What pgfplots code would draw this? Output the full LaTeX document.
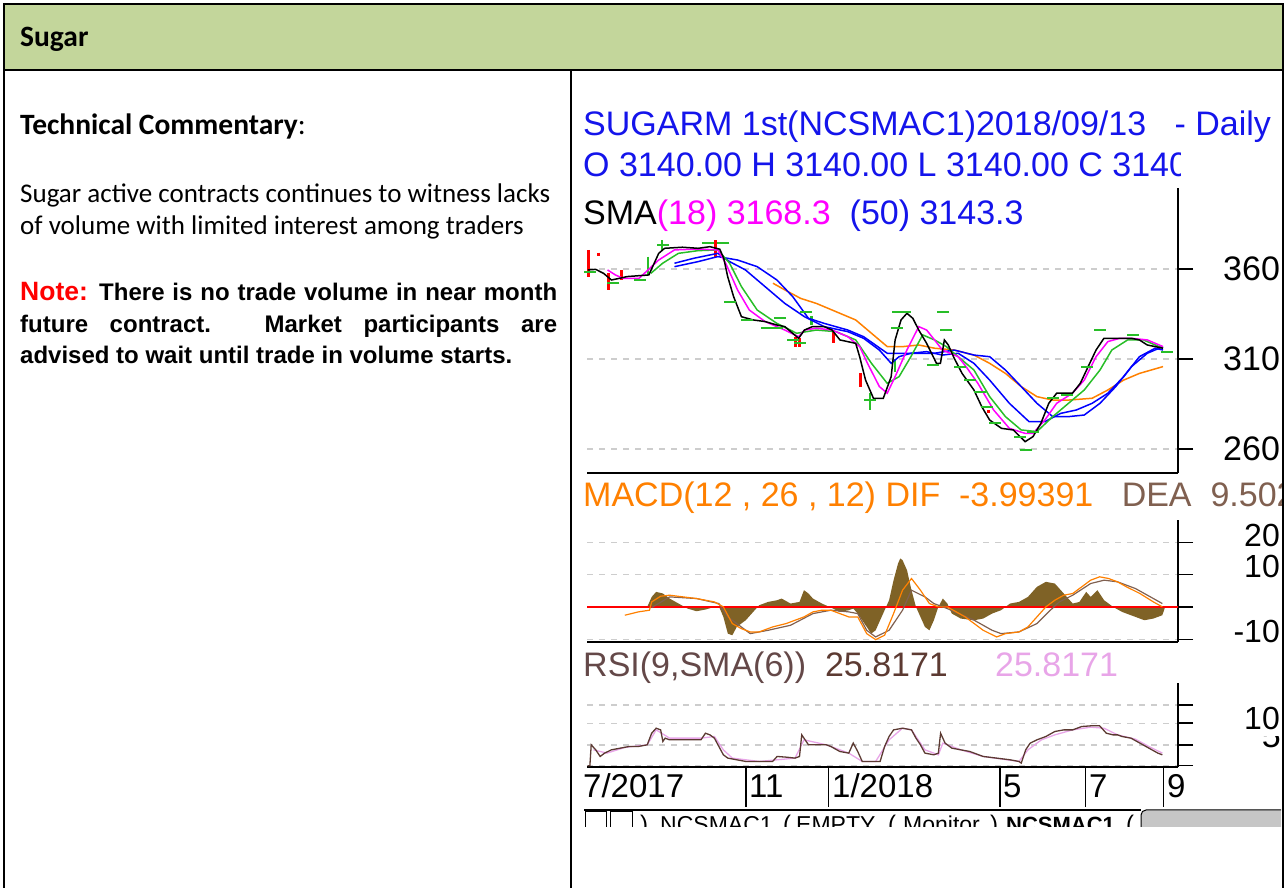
\documentclass[border=0pt]{standalone}
\usepackage{pgfplots}
\pgfplotsset{compat=1.18}
\usepackage{fontspec}
\setmainfont{Carlito}
\newfontfamily\arial{Liberation Sans}
\definecolor{hdr}{RGB}{195,214,155}
\definecolor{cblue}{RGB}{20,20,235}
\definecolor{cmag}{RGB}{255,0,255}
\definecolor{corange}{RGB}{255,128,0}
\definecolor{cgreen}{RGB}{40,190,40}
\definecolor{chist}{RGB}{127,98,38}
\definecolor{cdea}{RGB}{128,96,80}
\definecolor{crsi}{RGB}{92,58,50}
\definecolor{crsil}{RGB}{100,72,72}
\definecolor{cpink}{RGB}{232,165,232}
\definecolor{cgrid}{RGB}{205,205,205}
\pgfplotsset{panel/.style={anchor=south west, scale only axis, width=591pt,
  axis x line*=bottom, axis y line*=right,
  axis line style={black, line width=1.6pt},
  xtick=\empty, tick align=outside, major tick length=15pt,
  yticklabels={}, ytick style={black, line width=1.4pt},
  ymajorgrids, grid style={cgrid, line width=1.2pt, dash pattern=on 6pt off 6pt}}}
\begin{document}
\begin{tikzpicture}[x=1pt,y=1pt]
\path[use as bounding box] (0,0) rectangle (1285,888);
\fill[hdr] (4,884) rectangle (1283,818);
% ---------- left column ----------
\node[anchor=base west, inner sep=0] at (20,841) {\fontsize{29.5}{35}\selectfont\bfseries Sugar};
\node[anchor=base west, inner sep=0] at (20,753) {\fontsize{29.5}{35}\selectfont\textbf{Technical Commentary}:};
\node[anchor=base west, inner sep=0] at (20,685) {\fontsize{27}{33}\selectfont Sugar active contracts continues to witness lacks};
\node[anchor=base west, inner sep=0] at (20,653) {\fontsize{27}{33}\selectfont of volume with limited interest among traders};
\node[anchor=base west, inner sep=0] at (20,587) {\arial\bfseries\fontsize{24}{30}\selectfont\makebox[537pt][s]{{\fontsize{26.5}{30}\selectfont\color{red}Note:} There is no trade volume in near month}};
\node[anchor=base west, inner sep=0] at (20,555) {\arial\bfseries\fontsize{24}{30}\selectfont\makebox[537pt][s]{future contract. Market participants are}};
\node[anchor=base west, inner sep=0] at (20,524) {\arial\bfseries\fontsize{24}{30}\selectfont advised to wait until trade in volume starts.};
% ---------- chart texts ----------
\begin{scope}
\clip (572,0) rectangle (1281,818);
\node[anchor=base west, inner sep=0, text=cblue] at (583,752) {\arial\fontsize{34}{40}\selectfont SUGARM 1st(NCSMAC1)2018/09/13\ \ \ - Daily};
\begin{scope}
\clip (572,690) rectangle (1180,760);
\node[anchor=base west, inner sep=0, text=cblue] at (583,711) {\arial\fontsize{34}{40}\selectfont O 3140.00 H 3140.00 L 3140.00 C 3140.00};
\end{scope}
\node[anchor=base west, inner sep=0] at (583,663) {\arial\fontsize{34}{40}\selectfont SMA\textcolor{cmag}{(18) 3168.3}\ \ \textcolor{cblue}{(50) 3143.3}};
\node[anchor=base west, inner sep=0] at (583,381) {\arial\fontsize{34}{40}\selectfont\textcolor{corange}{MACD(12 , 26 , 12) DIF\ \ -3.99391}\ \ \ \textcolor{cdea}{DEA\ \ 9.502}};
\node[anchor=base west, inner sep=0] at (583,211) {\arial\fontsize{34}{40}\selectfont\textcolor{crsil}{RSI(9,SMA(6))}\ \ \textcolor{crsi}{25.8171}\ \ \ \ \ \textcolor{cpink}{25.8171}};
% rsi partially hidden label
\node[anchor=base east, inner sep=0] at (1300,140) {\arial\fontsize{34}{40}\selectfont 50};
\end{scope}
% price tick labels (visible part)
\node[anchor=base west, inner sep=0] at (1223,607) {\arial\fontsize{34}{40}\selectfont 360};
\node[anchor=base west, inner sep=0] at (1223,517) {\arial\fontsize{34}{40}\selectfont 310};
\node[anchor=base west, inner sep=0] at (1223,427) {\arial\fontsize{34}{40}\selectfont 260};
% macd tick labels
\node[anchor=base east, inner sep=0] at (1280,341) {\arial\fontsize{32}{40}\selectfont 20};
\node[anchor=base east, inner sep=0] at (1280,310) {\arial\fontsize{32}{40}\selectfont 10};
\node[anchor=base east, inner sep=0] at (1280,245) {\arial\fontsize{32}{40}\selectfont -10};
% rsi tick label
\node[anchor=base east, inner sep=0, fill=white, text depth=6pt] at (1280,158) {\arial\fontsize{32}{40}\selectfont 10};
% date labels
\node[anchor=base west, inner sep=0] at (583,90) {\arial\fontsize{33}{40}\selectfont 7/2017};
\node[anchor=base west, inner sep=0] at (749,90) {\arial\fontsize{33}{40}\selectfont 11};
\node[anchor=base west, inner sep=0] at (832,90) {\arial\fontsize{33}{40}\selectfont 1/2018};
\node[anchor=base west, inner sep=0] at (1003,90) {\arial\fontsize{33}{40}\selectfont 5};
\node[anchor=base west, inner sep=0] at (1089,90) {\arial\fontsize{33}{40}\selectfont 7};
\node[anchor=base west, inner sep=0] at (1167,90) {\arial\fontsize{33}{40}\selectfont 9};
% tab row
\begin{scope}
\clip (572,61) rectangle (1281,83);
\draw[line width=1.2pt] (584,78) -- (1141,78);
\draw[line width=1pt] (585,76) rectangle (606,55);
\draw[line width=1pt] (610,76) rectangle (632,55);
\fill[gray!45, rounded corners=5pt] (1141,78) rectangle (1310,40);
\draw[line width=1pt, rounded corners=5pt] (1141,78) rectangle (1310,40);
\node[anchor=base west, inner sep=0] at (640,55) {\arial\fontsize{24}{28}\selectfont )};
\node[anchor=base west, inner sep=0] at (660,55) {\arial\fontsize{23}{28}\selectfont NCSMAC1};
\node[anchor=base west, inner sep=0] at (783,55) {\arial\fontsize{24}{28}\selectfont (};
\node[anchor=base west, inner sep=0] at (796,55) {\arial\fontsize{23}{28}\selectfont EMPTY};
\node[anchor=base west, inner sep=0] at (888,55) {\arial\fontsize{24}{28}\selectfont (};
\node[anchor=base west, inner sep=0] at (903,55) {\arial\fontsize{23}{28}\selectfont Monitor};
\node[anchor=base west, inner sep=0] at (990,55) {\arial\fontsize{24}{28}\selectfont )};
\node[anchor=base west, inner sep=0] at (1006,55) {\arial\bfseries\fontsize{22}{28}\selectfont NCSMAC1};
\node[anchor=base west, inner sep=0] at (1126,55) {\arial\fontsize{24}{28}\selectfont (};
\end{scope}
% ---------- price panel ----------
\begin{axis}[panel, at={(587pt,415pt)}, height=285pt,
  xmin=18, xmax=1518, ymin=2467, ymax=4050, ytick={2600,3100,3600}]
\addplot[only marks, mark=-, mark size=6pt, cgreen, mark options={line width=2pt}] coordinates {
(25,3585)(85,3521)(152,3539)(212,3734)(326,3743)(364,3743)(381,3419)(423,3317)(474,3271)(499,3271)(508,3326)(541,3206)(558,3187)(575,3363)(736,2872)(804,3271)(808,3363)(824,3363)(922,3363)(930,3261)(896,3067)(964,3058)(989,2983)(1015,2919)(1032,2835)(1053,2743)(1116,2669)(1133,2595)(1150,2697)(1201,2882)(1235,2900)(1286,3058)(1319,3261)(1404,3234)(1489,3141)};
\addplot[cgreen, line width=2.5pt, unbounded coords=jump] coordinates {
(173,3669)(173,3567)(173,nan)(736,2910)(736,2817)(736,nan)(588,3340)(588,3290)(588,nan)(208,3760)(208,3700)(208,nan)(800,3100)(800,3030)};
\addplot[red, line width=3pt, unbounded coords=jump] coordinates {
(22,3706)(22,3558)(22,nan)(47,3691)(47,3673)(47,nan)(72,3576)(72,3484)(72,nan)(106,3595)(106,3539)(106,nan)(345,3761)(345,3669)(345,nan)(546,3224)(546,3169)(546,nan)(558,3215)(558,3169)(558,nan)(643,3261)(643,3187)(643,nan)(711,3020)(711,2947)(711,nan)(1036,2815)(1036,2800)};
\addplot[corange, line width=1.5pt] coordinates {
(490,3521)(520,3484)(560,3437)(600,3409)(650,3363)(700,3317)(740,3243)(780,3169)(820,3169)(860,3178)(900,3160)(950,3150)(1000,3122)(1040,3076)(1080,3020)(1120,2947)(1160,2891)(1200,2872)(1240,2872)(1300,2882)(1340,2928)(1380,2983)(1420,3020)(1480,3058)};
\addplot[blue, line width=1.5pt] coordinates {
(240,3613)(300,3641)(350,3669)(400,3650)(450,3613)(500,3539)(540,3447)(580,3326)(620,3298)(680,3261)(720,3224)(780,3132)(820,3132)(870,3132)(900,3132)(950,3150)(1000,3122)(1040,3113)(1080,3039)(1120,2947)(1160,2854)(1200,2780)(1240,2780)(1280,2789)(1320,2854)(1360,2947)(1400,3058)(1440,3132)(1480,3169)};
\addplot[blue, line width=1.5pt] coordinates {
(240,3632)(290,3660)(350,3687)(380,3641)(420,3595)(470,3502)(520,3409)(570,3335)(620,3280)(680,3252)(720,3215)(760,3150)(790,3076)(810,3113)(840,3132)(880,3141)(920,3122)(960,3132)(1000,3076)(1040,2983)(1090,2854)(1140,2752)(1180,2752)(1220,2798)(1260,2817)(1300,2854)(1340,2910)(1380,3002)(1420,3113)(1460,3160)(1480,3150)};
\addplot[cgreen, line width=1.5pt] coordinates {
(180,3576)(210,3632)(250,3687)(300,3702)(350,3706)(380,3632)(410,3502)(450,3372)(500,3298)(550,3243)(600,3261)(650,3252)(700,3206)(740,3076)(780,2965)(810,3002)(840,3113)(870,3234)(900,3206)(930,3169)(960,3113)(1000,3039)(1040,2891)(1080,2780)(1120,2706)(1160,2697)(1200,2780)(1240,2854)(1280,2928)(1320,3039)(1350,3150)(1390,3206)(1430,3206)(1480,3160)};
\addplot[cmag, line width=1.5pt] coordinates {
(70,3595)(90,3567)(110,3548)(150,3548)(200,3650)(240,3706)(300,3711)(350,3706)(370,3632)(400,3484)(430,3372)(470,3308)(520,3261)(555,3224)(570,3261)(600,3271)(640,3261)(680,3224)(710,3169)(730,3076)(760,2947)(780,2910)(800,3002)(830,3150)(860,3280)(880,3261)(900,3206)(920,3150)(960,3113)(980,3058)(1010,2965)(1050,2817)(1090,2715)(1130,2687)(1150,2687)(1180,2761)(1210,2854)(1250,2910)(1280,2983)(1310,3113)(1340,3197)(1370,3215)(1400,3215)(1440,3206)(1480,3169)};
\addplot[black, line width=1.5pt] coordinates {
(20,3595)(40,3598)(60,3576)(80,3539)(100,3548)(120,3558)(175,3567)(200,3687)(215,3715)(260,3721)(300,3715)(330,3724)(355,3710)(365,3660)(375,3558)(390,3447)(410,3335)(440,3317)(470,3308)(500,3289)(520,3280)(540,3243)(555,3215)(570,3261)(590,3280)(620,3280)(640,3261)(660,3206)(700,3187)(710,3113)(725,2983)(745,2882)(770,2882)(790,3002)(800,3206)(815,3317)(830,3354)(845,3326)(860,3261)(880,3187)(905,3076)(915,3076)(925,3206)(935,3178)(950,3104)(970,3020)(1000,2928)(1020,2835)(1040,2761)(1070,2715)(1100,2706)(1130,2641)(1150,2669)(1170,2743)(1190,2854)(1210,2910)(1250,2910)(1270,2965)(1290,3058)(1310,3150)(1330,3215)(1360,3215)(1400,3215)(1420,3206)(1440,3178)(1480,3160)};
\end{axis}
% ---------- MACD panel ----------
\begin{axis}[panel, at={(587pt,246pt)}, height=122pt,
  xmin=15.6, xmax=1335, ymin=-108, ymax=269, ytick={-100,0,100,200}]
\addplot[draw=none, fill=chist] coordinates {
(150,0)(160,31.4)(170,46.9)(185,41.8)(200,26.3)(220,10.8)(240,-4.7)(260,-12.9)(280,-7.8)(300,0.5)(310,2.5)(320,-30.5)(330,-82.1)(340,-87.2)(350,-61.4)(370,-40.8)(390,-9.8)(400,5.6)(420,15.9)(440,21.1)(450,26.3)(470,10.8)(490,15.9)(500,52.1)(510,41.8)(520,26.3)(540,10.8)(560,-1.6)(580,-15)(600,-9.8)(610,-4.7)(620,-20.2)(640,-61.4)(650,-82.1)(660,-71.8)(670,-40.8)(680,-9.8)(690,21.1)(700,83)(710,134.6)(715,150.1)(720,145)(730,114)(740,52.1)(750,0.5)(760,-30.5)(770,-61.4)(780,-71.8)(790,-40.8)(800,0.5)(810,26.3)(820,10.8)(830,-20.2)(850,-35.6)(880,-40.8)(900,-35.6)(920,-20.2)(940,-9.8)(960,10.8)(980,15.9)(1000,31.4)(1020,62.4)(1040,77.9)(1060,72.7)(1080,41.8)(1100,10.8)(1115,15.9)(1130,46.9)(1140,31.4)(1155,52.1)(1170,21.1)(1190,0.5)(1210,-15)(1240,-30.5)(1260,-40.8)(1280,-35.6)(1300,-25.3)(1305,-4.7)(1306,0)} \closedcycle;
\addplot[red, line width=1.8pt] coordinates {(15.6,0)(1335,0)};
\addplot[cdea, line width=1.2pt] coordinates {
(160,-1.6)(200,31.4)(260,26.3)(310,10.8)(330,-30.5)(360,-61.4)(380,-82.1)(420,-71.8)(470,-56.3)(520,-20.2)(560,-9.8)(600,-15)(620,-20.2)(640,-71.8)(660,-92.4)(690,-71.8)(720,-9.8)(740,52.1)(770,31.4)(790,10.8)(820,-4.7)(880,-40.8)(920,-71.8)(940,-82.1)(980,-76.9)(1020,-51.1)(1050,-9.8)(1070,15.9)(1100,36.6)(1140,72.7)(1170,83)(1200,77.9)(1240,57.2)(1300,10.8)};
\addplot[corange, line width=1.2pt] coordinates {
(100,-25.3)(130,-15)(155,-9.8)(160,15.9)(180,33.5)(200,36.6)(230,31.4)(260,26.3)(300,15.9)(320,0.5)(340,-51.1)(360,-66.6)(380,-76.9)(400,-76.9)(430,-61.4)(460,-51.1)(500,-30.5)(520,-15)(540,-9.8)(560,-9.8)(580,-20.2)(600,-30.5)(620,-30.5)(640,-82.1)(660,-100.7)(680,-87.2)(700,-20.2)(720,52.1)(740,88.2)(760,52.1)(780,10.8)(800,0.5)(820,0.5)(860,-30.5)(880,-51.1)(900,-71.8)(930,-92.4)(950,-82.1)(980,-76.9)(1000,-61.4)(1020,-30.5)(1040,0.5)(1060,21.1)(1080,36.6)(1100,41.8)(1120,62.4)(1140,83)(1160,93.4)(1180,88.2)(1200,77.9)(1220,62.4)(1250,41.8)(1280,15.9)(1300,0.5)};
\end{axis}
% ---------- RSI panel ----------
\begin{axis}[panel, at={(587pt,121pt)}, height=84pt,
  xmin=15.6, xmax=1335, ymin=-2, ymax=136, ytick={0,34,70,100}]
\addplot[cpink, line width=1.3pt] coordinates {
(30,26.2)(60,20.8)(100,30.1)(150,34.4)(170,59)(200,45.4)(270,45.4)(300,48.1)(320,26.2)(340,12.6)(400,7.1)(440,9.8)(480,12.6)(500,42.6)(550,34.4)(600,20.8)(630,7.1)(660,7.1)(690,42.6)(720,61.7)(740,59)(770,26.2)(800,18)(810,37.2)(850,26.2)(900,15.3)(980,7.1)(1000,26.2)(1030,42.6)(1060,50.8)(1100,59)(1140,63.4)(1170,61.7)(1200,50.8)(1240,43.7)(1270,31.7)(1300,20.8)};
\addplot[crsi, line width=1.3pt] coordinates {
(17,0)(22,0)(25,34.4)(35,26.2)(45,15.3)(55,20.8)(70,26.2)(90,29)(110,31.7)(130,31.7)(150,34.4)(160,53.5)(170,61.7)(180,59)(185,39.9)(190,45.4)(200,42.6)(230,42.6)(250,42.6)(270,42.6)(280,53.5)(290,50.8)(300,45.4)(310,31.7)(320,18)(330,12.6)(350,9.8)(370,7.1)(400,7.1)(430,7.1)(440,15.3)(460,14.2)(480,12.6)(490,15.3)(495,50.8)(505,39.9)(510,34.4)(530,34.4)(550,34.4)(560,31.7)(580,23.5)(600,20.8)(610,37.2)(620,23.5)(630,7.1)(650,7.1)(670,7.1)(680,31.7)(690,48.1)(700,59)(720,61.7)(740,59)(750,45.4)(760,34.4)(770,20.8)(790,18)(800,20.8)(805,53.5)(815,37.2)(830,29)(850,26.2)(870,23.5)(900,15.3)(930,12.6)(960,9.8)(980,7.1)(985,4.4)(995,26.2)(1005,37.2)(1020,42.6)(1040,48.1)(1060,56.3)(1080,59)(1100,59)(1120,64.5)(1140,65.6)(1160,65.6)(1175,53.5)(1190,50.8)(1200,50.8)(1210,48.1)(1230,45.4)(1250,37.2)(1270,29)(1290,20.8)(1300,18)};
\end{axis}
% ---------- date separators ----------
\begin{axis}[anchor=south west, at={(587pt,81pt)}, scale only axis, width=591pt, height=40pt,
  xmin=15.6, xmax=1335, ymin=0, ymax=1, axis line style={draw=none},
  xtick={370,555,938,1128,1303}, xticklabels={}, ytick=\empty, xtick style={draw=none},
  xmajorgrids, major grid style={black, line width=1.5pt}]
\addplot[draw=none] coordinates {(100,0.5)};
\end{axis}
% ---------- frame ----------
\draw[line width=2.2pt] (4,0) -- (4,884) -- (1283,884) -- (1283,0);
\draw[line width=2.2pt] (4,818) -- (1283,818);
\draw[line width=2.2pt] (571,818) -- (571,0);
\end{tikzpicture}
\end{document}
